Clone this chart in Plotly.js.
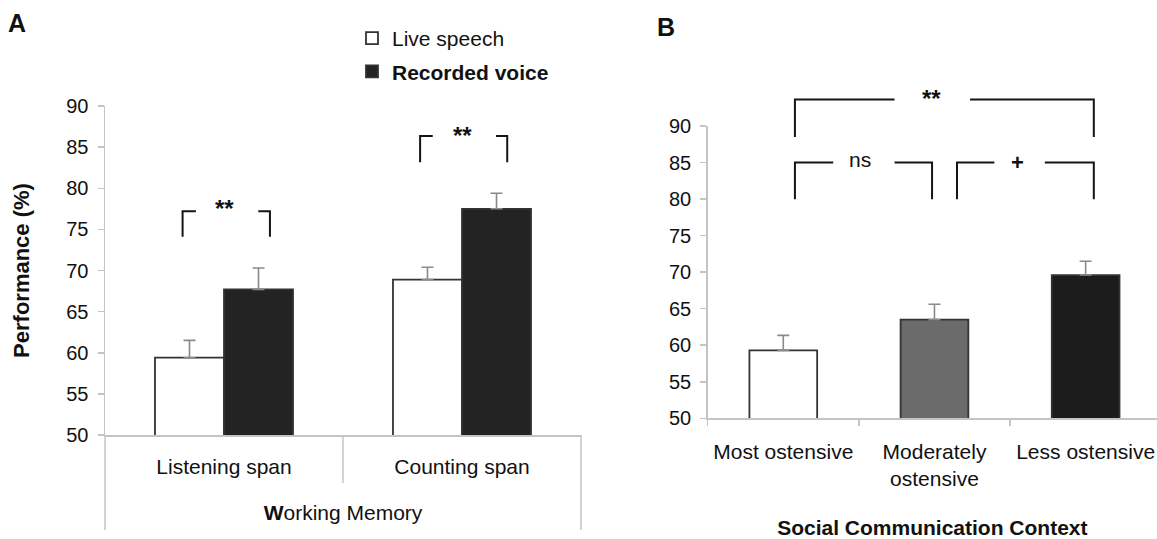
<!DOCTYPE html>
<html>
<head>
<meta charset="utf-8">
<script src="https://cdn.plot.ly/plotly-3.0.1.min.js"></script>
<style>html,body{margin:0;padding:0;background:#fff;}#chart{width:1157px;height:539px;}</style>
</head>
<body>
<div id="chart"></div>
<script>
// ---- data ----
const memoryTasks = ['Listening span', 'Counting span'];
const liveSpeech = [59.4, 68.9];
const liveSpeechErr = [2.1, 1.5];
const recordedVoice = [67.7, 77.5];
const recordedVoiceErr = [2.6, 1.9];

const contextCategories = ['Most ostensive', 'Moderately<br>ostensive', 'Less ostensive'];
const contextValues = [59.3, 63.5, 69.6];
const contextErr = [2.05, 2.1, 1.9];
const contextColors = ['#ffffff', '#6b6b6b', '#1c1c1c'];

const yTicks = [50, 55, 60, 65, 70, 75, 80, 85, 90];

// ---- layout geometry ----
const W = 1157, H = 539;
const FONT = 'Liberation Sans, Arial, Helvetica, sans-serif';
const axA = {xd: [105 / W, 581 / W], xr: [-0.5, 1.5], yd: [1 - 435 / H, 1 - 106 / H], yr: [50, 90]};
const axB = {xd: [707.7 / W, 1], xr: [-0.5, 2.472], yd: [1 - 418.3 / H, 1 - 126 / H], yr: [50, 90]};
const px = (ax, v) => ax.xd[0] + (v - ax.xr[0]) / (ax.xr[1] - ax.xr[0]) * (ax.xd[1] - ax.xd[0]);
const py = (ax, v) => ax.yd[0] + (v - ax.yr[0]) / (ax.yr[1] - ax.yr[0]) * (ax.yd[1] - ax.yd[0]);

const errStyle = {type: 'data', symmetric: false, color: '#8a8a8a', thickness: 1.6, width: 6};
const zeros = n => new Array(n).fill(0);

const traces = [
  {type: 'bar', name: 'Live speech', x: memoryTasks, y: liveSpeech, xaxis: 'x', yaxis: 'y',
   marker: {color: '#ffffff', line: {color: '#333333', width: 1.8}},
   error_y: Object.assign({array: liveSpeechErr, arrayminus: zeros(liveSpeechErr.length)}, errStyle),
   legendgroup: 'a', hoverinfo: 'y'},
  {type: 'bar', name: '<b>Recorded voice</b>', x: memoryTasks, y: recordedVoice, xaxis: 'x', yaxis: 'y',
   marker: {color: '#232323', line: {color: '#333333', width: 1.8}},
   error_y: Object.assign({array: recordedVoiceErr, arrayminus: zeros(recordedVoiceErr.length)}, errStyle),
   legendgroup: 'b', hoverinfo: 'y'},
  {type: 'bar', name: 'Context', x: contextCategories, y: contextValues, xaxis: 'x2', yaxis: 'y2',
   width: 0.448, showlegend: false,
   marker: {color: contextColors, line: {color: '#333333', width: 1.8}},
   error_y: Object.assign({array: contextErr, arrayminus: zeros(contextErr.length)}, errStyle),
   hoverinfo: 'y'}
];

// brackets: [left, leftInner, rightInner, right, top, bottom] in data units
function bracket(ax, l, li, ri, r, t, b) {
  const L = px(ax, l), LI = px(ax, li), RI = px(ax, ri), R = px(ax, r), T = py(ax, t), B = py(ax, b);
  const line = {color: '#151515', width: 2};
  return [
    {type: 'path', xref: 'paper', yref: 'paper', path: `M${L},${B} L${L},${T} L${LI},${T}`, line: line},
    {type: 'path', xref: 'paper', yref: 'paper', path: `M${RI},${T} L${R},${T} L${R},${B}`, line: line}
  ];
}
const grey = {color: '#c4c4c4', width: 1.5};
const shapes = [
  // multi-level category dividers below panel A axis
  {type: 'line', xref: 'paper', yref: 'paper', x0: px(axA, -0.5), x1: px(axA, -0.5), y0: axA.yd[0], y1: 1 - 530 / H, line: grey},
  {type: 'line', xref: 'paper', yref: 'paper', x0: px(axA, 0.5), x1: px(axA, 0.5), y0: axA.yd[0], y1: 1 - 483 / H, line: grey},
  {type: 'line', xref: 'paper', yref: 'paper', x0: px(axA, 1.5), x1: px(axA, 1.5), y0: axA.yd[0], y1: 1 - 530 / H, line: grey},
  ...bracket(axA, -0.174, -0.118, 0.144, 0.193, 77.2, 74.1),
  ...bracket(axA, 0.824, 0.877, 1.143, 1.19, 86.35, 83.15),
  ...bracket(axB, 0.077, 0.736, 1.235, 2.054, 93.64, 88.5),
  ...bracket(axB, 0.077, 0.33, 0.736, 0.984, 85.0, 79.96),
  ...bracket(axB, 1.149, 1.396, 1.73, 2.054, 85.0, 79.96)
];

const txt = (text, x, y, xref, yref, size, extra) => Object.assign({
  text: text, x: x, y: y, xref: xref, yref: yref, showarrow: false,
  xanchor: 'center', yanchor: 'middle', font: {family: FONT, size: size, color: '#111'}
}, extra || {});

const annotations = [
  txt('<b>A</b>', 17 / W, 1 - 22.5 / H, 'paper', 'paper', 25),
  txt('<b>B</b>', 666 / W, 1 - 26.5 / H, 'paper', 'paper', 25),
  txt('<b>**</b>', 0, 77.5, 'x', 'y', 24),
  txt('<b>**</b>', 1, 86.45, 'x', 'y', 24),
  // sits above the y range of panel B, so placed in paper units from the data position
  txt('<b>**</b>', px(axB, 0.982), py(axB, 93.75), 'paper', 'paper', 24),
  txt('ns', 0.506, 85.45, 'x2', 'y2', 21),
  txt('<b>+</b>', 1.549, 85.0, 'x2', 'y2', 22)
];

const yAxisCommon = {
  range: [50, 90], tickvals: yTicks, ticks: 'outside', ticklen: 6, tickcolor: '#c4c4c4', tickwidth: 1.5,
  showline: true, linecolor: '#c4c4c4', linewidth: 1.5, showgrid: false, zeroline: false,
  tickfont: {family: FONT, size: 20, color: '#111'}, ticklabelstandoff: 5, fixedrange: true
};

const layout = {
  width: W, height: H,
  margin: {l: 0, r: 0, t: 0, b: 0},
  paper_bgcolor: '#ffffff', plot_bgcolor: '#ffffff',
  barmode: 'group', bargap: 0.42, bargroupgap: 0,
  font: {family: FONT, color: '#111'},
  showlegend: true,
  legend: {x: 352 / W, y: 1 - 18 / H, xanchor: 'left', yanchor: 'top', traceorder: 'grouped',
           tracegroupgap: 3, font: {family: FONT, size: 21, color: '#111'}, bgcolor: 'rgba(0,0,0,0)'},
  xaxis: {domain: axA.xd, range: axA.xr, type: 'category', anchor: 'y', ticks: '', showline: true,
          linecolor: '#c4c4c4', linewidth: 1.5, showgrid: false, zeroline: false,
          tickfont: {family: FONT, size: 21, color: '#111'}, ticklabelstandoff: 12,
          title: {text: '<b>W</b>orking Memory', font: {family: FONT, size: 21, color: '#111'}, standoff: 28},
          fixedrange: true},
  yaxis: Object.assign({domain: axA.yd, anchor: 'x',
          title: {text: '<b>Performance (%)</b>', font: {family: FONT, size: 22, color: '#111'}, standoff: 30}}, yAxisCommon),
  xaxis2: {domain: axB.xd, range: axB.xr, type: 'category', anchor: 'y2', ticks: 'outside', tickson: 'boundaries',
           ticklen: 6, tickcolor: '#c4c4c4', tickwidth: 1.5, showline: true,
           linecolor: '#c4c4c4', linewidth: 1.5, showgrid: false, zeroline: false,
           tickfont: {family: FONT, size: 21, color: '#111'}, ticklabelstandoff: 14,
           title: {text: '<b>Social Communication Context</b>', font: {family: FONT, size: 21, color: '#111'}, standoff: 34},
           fixedrange: true},
  yaxis2: Object.assign({domain: axB.yd, anchor: 'x2'}, yAxisCommon),
  shapes: shapes,
  annotations: annotations
};

Plotly.newPlot('chart', traces, layout, {displayModeBar: false, staticPlot: true});
</script>
</body>
</html>
